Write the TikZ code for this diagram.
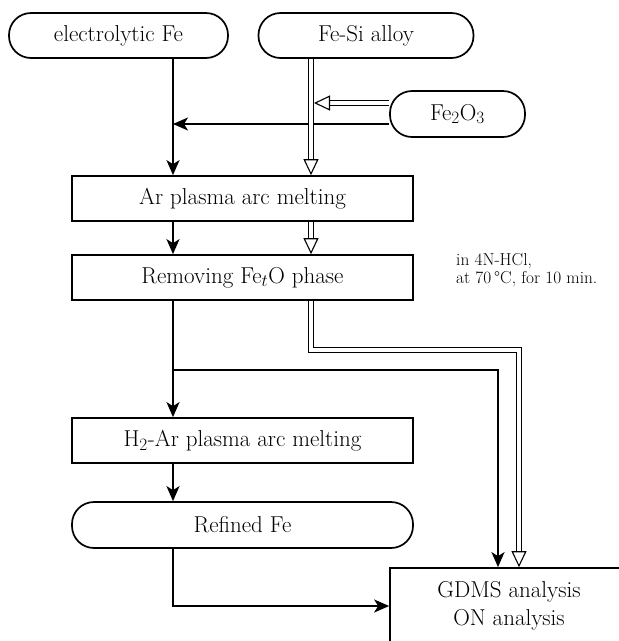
\documentclass[tikz,border=0pt]{standalone}
\usetikzlibrary{arrows.meta}
\tikzset{
  box/.style={draw, line width=1.7pt, minimum width=341pt, minimum height=45pt,
    inner sep=0pt, font=\fontsize{23}{27}\selectfont},
  process/.style={box, rectangle},
  terminal/.style={box, rounded corners=22pt},
  note/.style={align=left, inner sep=0pt, font=\fontsize{17.3}{18.5}\selectfont},
  flow/.style={line width=1.7pt, -{Stealth[length=15pt,width=13pt,inset=4pt]}},
  hollow/.style={double, double distance=3.6pt, line width=1.1pt,
    -{Triangle[length=16pt,width=15pt,fill=white,line width=1.1pt]}},
}
\begin{document}
\begin{tikzpicture}[x=1pt,y=-1pt]
        \useasboundingbox (0,0) rectangle (619,641);
        \clip (0,0) rectangle (619,641);
        %%sources
        \node[terminal, minimum width=219pt] (elfe) at (118.5,35.5){electrolytic Fe};
        \node[terminal, minimum width=215pt] (fesi) at (366,35.5){Fe-Si alloy};
        \node[terminal, minimum width=135pt, minimum height=46pt] (oxide) at (457.5,114){Fe$_2$O$_3$};
        %%steps
        \node[process] (arm) at (242.5,198.5){Ar plasma arc melting};
        \node[process] (rem) at (242.5,277.5){Removing Fe$_t$O phase};
        \node[process] (harm) at (242.5,440.5){H$_2$-Ar plasma arc melting};
        \node[terminal, minimum height=46pt] (refe) at (242.5,525){Refined Fe};
        \node[process, minimum width=238pt, minimum height=76pt, align=center] (gdms) at (509,606){GDMS analysis\\[1pt]ON analysis};
        \node[note, anchor=north west] (cond) at (456,253){in 4N-HCl,\\at 70\,\textdegree C, for 10 min.};

        %%columns
        \coordinate (lcol) at (173,0);
        \coordinate (rcol) at (311,0);
        \coordinate (rcolr) at (314,0);
        \coordinate (oxa) at ([yshift=-10pt]oxide.west);
        \coordinate (oxb) at ([yshift=11pt]oxide.west);
        \coordinate (split) at (173,370);
        \coordinate (gin1) at ([xshift=-11pt]gdms.north);
        \coordinate (gin2) at ([xshift=10pt]gdms.north);

        %%L1
        \draw[flow](elfe.south -| lcol) to (arm.north -| lcol);
        \draw[flow](oxa) to (oxa -| lcol);
            \draw[hollow](fesi.south -| rcol) to (arm.north -| rcol);
            \draw[hollow](oxb) to (oxb -| rcolr);
        %%L2
        \draw[flow](arm.south -| lcol) to (rem.north -| lcol);
            \draw[hollow](arm.south -| rcol) to (rem.north -| rcol);
        %%L3
        \draw[flow](rem.south -| lcol) to (harm.north -| lcol);
        \draw[flow](split) -| (gin1);
            \draw[hollow](rem.south -| rcol) -- ++(0,49) -| (gin2);
        %%L4
        \draw[flow](harm.south -| lcol) to (refe.north -| lcol);
        \draw[flow](refe.south -| lcol) |- (gdms.west);
\end{tikzpicture}
\end{document}
